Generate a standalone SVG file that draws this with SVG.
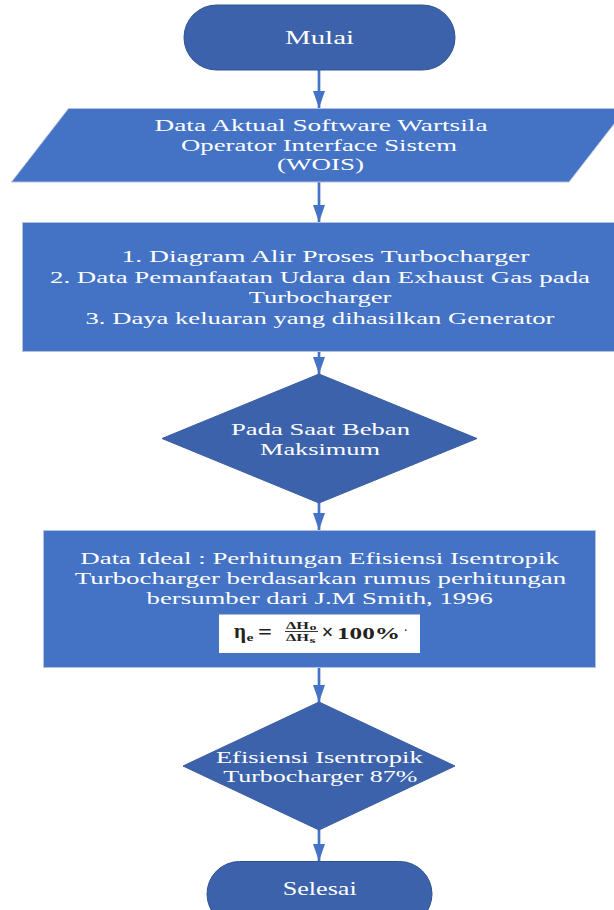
<svg xmlns="http://www.w3.org/2000/svg" width="614" height="910" viewBox="0 0 614 910">
<defs>
<style>
.term{fill:#3D62AC;stroke:#2F528F;stroke-width:1}
.proc{fill:#4472C4;stroke:#B4C2DC;stroke-width:1}
.dec{fill:#3D62AC;stroke:#3A5D9F;stroke-width:1}
.t{font-family:"Liberation Serif","Times New Roman",serif;font-size:17.5px;fill:#FFFFFF;text-anchor:middle}
.tb{font-size:18.5px}
.conn{stroke:#4472C4;stroke-width:2.7;fill:none}
.f{font-family:"Liberation Serif","Times New Roman",serif;fill:#222;font-weight:bold}
</style>
<marker id="ah" markerUnits="userSpaceOnUse" markerWidth="18" markerHeight="12" refX="17" refY="6" orient="auto">
<path d="M0,0 L17,6 L0,12 Z" fill="#4472C4"/>
</marker>
</defs>

<g id="connectors">
<line class="conn" x1="319" y1="70" x2="319" y2="108" marker-end="url(#ah)"/>
<line class="conn" x1="319" y1="182" x2="319" y2="222" marker-end="url(#ah)"/>
<line class="conn" x1="319" y1="352" x2="319" y2="374" marker-end="url(#ah)"/>
<line class="conn" x1="319" y1="503" x2="319" y2="530" marker-end="url(#ah)"/>
<line class="conn" x1="319" y1="667" x2="319" y2="702" marker-end="url(#ah)"/>
<line class="conn" x1="319" y1="830" x2="319" y2="861" marker-end="url(#ah)"/>
</g>

<g id="mulai">
<rect class="term" x="184" y="5" width="271" height="65" rx="32.5" ry="32.5"/>
<text class="t tb" x="319.5" y="44" textLength="69" lengthAdjust="spacingAndGlyphs">Mulai</text>
</g>

<g id="data-aktual">
<polygon class="proc" points="68.5,108.5 626,108.5 569,182 11.5,182"/>
<text class="t" x="321" y="131" textLength="333" lengthAdjust="spacingAndGlyphs">Data Aktual Software Wartsila</text>
<text class="t" x="319" y="151" textLength="276" lengthAdjust="spacingAndGlyphs">Operator Interface Sistem</text>
<text class="t" x="320.5" y="170" textLength="87" lengthAdjust="spacingAndGlyphs">(WOIS)</text>
</g>

<g id="data-list">
<rect class="proc" x="22.5" y="222.5" width="600" height="129"/>
<text class="t" x="325.4" y="262" textLength="408" lengthAdjust="spacingAndGlyphs">1. Diagram Alir Proses Turbocharger</text>
<text class="t" x="320" y="283" textLength="540" lengthAdjust="spacingAndGlyphs">2. Data Pemanfaatan Udara dan Exhaust Gas pada</text>
<text class="t" x="320" y="303" textLength="142.5" lengthAdjust="spacingAndGlyphs">Turbocharger</text>
<text class="t" x="320" y="324" textLength="469" lengthAdjust="spacingAndGlyphs">3. Daya keluaran yang dihasilkan Generator</text>
</g>

<g id="beban-maks">
<polygon class="dec" points="319,374 477,438.5 319,503 162,438.5"/>
<text class="t" x="320.5" y="435" textLength="179" lengthAdjust="spacingAndGlyphs">Pada Saat Beban</text>
<text class="t" x="320" y="455" textLength="120" lengthAdjust="spacingAndGlyphs">Maksimum</text>
</g>

<g id="data-ideal">
<rect class="proc" x="43.5" y="530.5" width="552" height="137"/>
<text class="t" x="319.6" y="564" textLength="478.6" lengthAdjust="spacingAndGlyphs">Data Ideal : Perhitungan Efisiensi Isentropik</text>
<text class="t" x="320.5" y="583.5" textLength="491.6" lengthAdjust="spacingAndGlyphs">Turbocharger berdasarkan rumus perhitungan</text>
<text class="t" x="319.8" y="603.5" textLength="346.4" lengthAdjust="spacingAndGlyphs">bersumber dari J.M Smith, 1996</text>
<rect x="219" y="614.5" width="201" height="38.5" fill="#FFFFFF"/>
<text class="f" x="234" y="638" font-size="21" font-weight="normal" textLength="12" lengthAdjust="spacingAndGlyphs">η</text>
<text class="f" x="246.5" y="640.5" font-size="11" textLength="7" lengthAdjust="spacingAndGlyphs">e</text>
<text class="f" x="258" y="639" font-size="21" font-weight="normal" textLength="14" lengthAdjust="spacingAndGlyphs">=</text>
<text class="f" x="286" y="628.5" font-size="11" textLength="23" lengthAdjust="spacingAndGlyphs">ΔH</text>
<text class="f" x="309.5" y="630" font-size="8" textLength="7" lengthAdjust="spacingAndGlyphs">o</text>
<line x1="285" y1="631.5" x2="318" y2="631.5" stroke="#222" stroke-width="0.9"/>
<text class="f" x="286" y="641" font-size="11" textLength="23" lengthAdjust="spacingAndGlyphs">ΔH</text>
<text class="f" x="309.5" y="643" font-size="8" textLength="6" lengthAdjust="spacingAndGlyphs">s</text>
<text class="f" x="321.5" y="639" font-size="20" font-weight="normal" textLength="12" lengthAdjust="spacingAndGlyphs">×</text>
<text class="f" x="337" y="638.5" font-size="17" textLength="63" lengthAdjust="spacingAndGlyphs">100%</text>
<text class="f" x="404" y="634" font-size="10" font-weight="normal">·</text>
</g>

<g id="efisiensi">
<polygon class="dec" points="319,702 455,766 319,830 183,766"/>
<text class="t" x="319.3" y="763" textLength="206.7" lengthAdjust="spacingAndGlyphs">Efisiensi Isentropik</text>
<text class="t" x="320.3" y="782" textLength="194" lengthAdjust="spacingAndGlyphs">Turbocharger 87%</text>
</g>

<g id="selesai">
<rect class="term" x="207" y="861.5" width="225" height="65" rx="32.5" ry="32.5"/>
<text class="t tb" x="319.7" y="895" textLength="74" lengthAdjust="spacingAndGlyphs">Selesai</text>
</g>
</svg>
